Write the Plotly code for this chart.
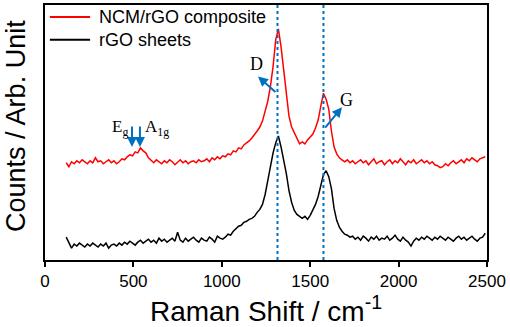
import plotly.graph_objects as go

# Raman shift grid (cm^-1), sampled every 15 cm^-1
raman_shift = list(range(120, 2491, 15))

# NCM/rGO composite (arbitrary units, offset trace)
ncm_rgo = [
    98, 94, 99, 97, 100, 98, 101, 99, 97, 100,
    98, 103, 99, 100, 97, 99, 101, 98, 100, 97,
    99, 102, 101, 104, 106, 105, 109, 108, 113, 110,
    108, 103, 100, 98, 101, 99, 97, 100, 98, 101,
    99, 96, 99, 101, 98, 100, 97, 99, 100, 98,
    101, 99, 100, 102, 99, 103, 101, 104, 102, 105,
    104, 107, 106, 110, 109, 113, 112, 116, 118, 120,
    123, 126, 130, 134, 140, 150, 160, 175, 195, 222,
    233, 215, 190, 165, 145, 134, 128, 122, 117, 119,
    117, 121, 124, 127, 133, 141, 155, 168, 162, 152,
    130, 114, 107, 103, 101, 99, 101, 98, 100, 97,
    99, 101, 98, 100, 96, 99, 102, 97, 99, 100,
    96, 99, 101, 97, 100, 98, 102, 99, 96, 100,
    98, 101, 97, 99, 101, 98, 100, 97, 99, 96,
    95, 93, 94, 97, 95, 98, 100, 97, 99, 101,
    98, 102, 100, 103, 101, 99, 102, 103, 104,
]

# rGO sheets (arbitrary units)
rgo_sheets = [
    23, 17, 12, 16, 14, 17, 15, 13, 16, 14,
    17, 15, 13, 16, 14, 17, 12, 15, 16, 14,
    17, 15, 18, 16, 19, 17, 15, 18, 20, 17,
    19, 21, 18, 20, 17, 22, 19, 21, 18, 20,
    22, 19, 28, 20, 18, 22, 19, 21, 23, 20,
    18, 22, 20, 19, 23, 21, 18, 24, 22, 21,
    23, 26, 25, 29, 32, 34, 35, 38, 39, 41,
    42, 44, 48, 51, 56, 66, 80, 96, 108, 118,
    125, 114, 102, 87, 70, 58, 50, 46, 44, 42,
    44, 41, 45, 50, 56, 64, 76, 86, 90, 84,
    72, 52, 40, 33, 29, 26, 25, 23, 24, 21,
    23, 20, 24, 22, 19, 23, 21, 24, 20, 22,
    21, 24, 20, 22, 25, 21, 19, 23, 20, 18,
    14, 19, 22, 20, 23, 21, 24, 22, 20, 23,
    21, 24, 22, 20, 23, 21, 19, 22, 24, 21,
    23, 20, 22, 24, 21, 19, 22, 23, 27,
]

assert len(raman_shift) == len(ncm_rgo) == len(rgo_sheets)

series_names = ["NCM/rGO composite", "rGO sheets"]
series_colors = ["#FF0000", "#000000"]
band_positions = [1315, 1575]   # D and G band markers
x_ticks = [0, 500, 1000, 1500, 2000, 2500]

BLUE = "#0070C0"
SANS = "Arial, Liberation Sans, sans-serif"
SERIF = "Times New Roman, Liberation Serif, serif"

fig = go.Figure()
for name, yv, col in zip(series_names, [ncm_rgo, rgo_sheets], series_colors):
    fig.add_trace(go.Scatter(x=raman_shift, y=yv, mode="lines", name=name,
                             line=dict(color=col, width=1.5), showlegend=False))

for bx in band_positions:
    fig.add_shape(type="line", xref="x", yref="paper", x0=bx, x1=bx, y0=0, y1=1,
                  line=dict(color=BLUE, width=2, dash="dot"))

anns = []
# legend (drawn as line samples + labels in the top-left corner)
legend_y = [0.953, 0.864]
for name, col, ly in zip(series_names, series_colors, legend_y):
    fig.add_shape(type="line", xref="paper", yref="paper", x0=0.011, x1=0.102, y0=ly, y1=ly,
                  line=dict(color=col, width=2))
    anns.append(dict(x=0.118, y=ly, xref="paper", yref="paper", text=name, showarrow=False,
                     xanchor="left", yanchor="middle",
                     font=dict(family=SANS, size=18, color="black")))

# y-axis title
anns.append(dict(x=-0.066, y=0.525, xref="paper", yref="paper", text="Counts / Arb. Unit",
                 textangle=-90, showarrow=False, xanchor="center", yanchor="middle",
                 font=dict(family=SANS, size=27, color="black")))

# D label and arrow
anns.append(dict(x=1205, y=185, ax=1312, ay=168, xref="x", yref="y", axref="x", ayref="y",
                 text="", showarrow=True, arrowhead=2, arrowsize=1, arrowwidth=2, arrowcolor=BLUE))
anns.append(dict(x=1199, y=198, xref="x", yref="y", text="D", showarrow=False,
                 font=dict(family=SERIF, size=18, color="black")))
# G label and arrow
anns.append(dict(x=1680, y=154, ax=1578, ay=132, xref="x", yref="y", axref="x", ayref="y",
                 text="", showarrow=True, arrowhead=2, arrowsize=1, arrowwidth=2, arrowcolor=BLUE))
anns.append(dict(x=1708, y=161, xref="x", yref="y", text="G", showarrow=False,
                 font=dict(family=SERIF, size=18, color="black")))
# Eg and A1g arrows
for ex in [492, 537]:
    anns.append(dict(x=ex, y=114, ax=ex, ay=136, xref="x", yref="y", axref="x", ayref="y",
                     text="", showarrow=True, arrowhead=2, arrowsize=1, arrowwidth=2, arrowcolor=BLUE))
anns.append(dict(x=424, y=133, xref="x", yref="y", text="E<sub>g</sub>", showarrow=False,
                 font=dict(family=SERIF, size=17, color="black")))
anns.append(dict(x=636, y=133, xref="x", yref="y", text="A<sub>1g</sub>", showarrow=False,
                 font=dict(family=SERIF, size=17, color="black")))

fig.update_layout(
    width=510, height=327,
    margin=dict(l=45, r=23, t=3, b=67),
    paper_bgcolor="white", plot_bgcolor="white",
    showlegend=False,
    annotations=anns,
    font=dict(family=SANS, color="black"),
)
fig.update_xaxes(range=[0, 2500], tickvals=x_ticks, ticks="outside", ticklen=5, tickwidth=2,
                 tickcolor="black", showline=True, linewidth=2, linecolor="black", mirror=True,
                 showgrid=False, zeroline=False,
                 tickfont=dict(family=SANS, size=17, color="black"),
                 title=dict(text="Raman Shift / cm<sup>-1</sup>", standoff=8,
                            font=dict(family=SANS, size=28, color="black")))
fig.update_yaxes(range=[0, 257], showticklabels=False, ticks="", showline=True, linewidth=2,
                 linecolor="black", mirror=True, showgrid=False, zeroline=False)

fig.write_html("out.html", config={"displayModeBar": False},
               post_script="document.body.style.margin='0';")
